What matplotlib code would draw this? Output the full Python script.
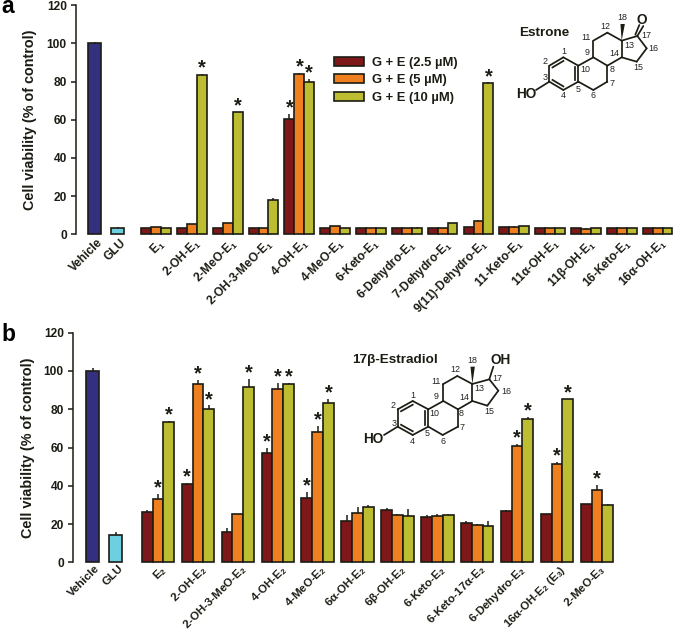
import matplotlib
matplotlib.use("Agg")
import matplotlib.pyplot as plt
from matplotlib.patches import Polygon, Patch
from matplotlib.transforms import ScaledTranslation
import numpy as np

plt.rcParams['font.family'] = ['Liberation Sans', 'DejaVu Sans']
plt.rcParams['font.weight'] = 'bold'
plt.rcParams['mathtext.fontset'] = 'custom'
plt.rcParams['mathtext.bf'] = 'Liberation Sans:bold'
plt.rcParams['mathtext.rm'] = 'Liberation Sans:bold'
plt.rcParams['mathtext.default'] = 'bf'

W, H = 674, 634
DARK = '#1c1c14'

control_labels = ['Vehicle', 'GLU']
series_names = ['G + E (2.5 µM)', 'G + E (5 µM)', 'G + E (10 µM)']
series_colors = ['#7d1719', '#f0801f', '#bcbd30']
control_colors = ['#343080', '#6ecfe0']

# Panel a
a_control = [100, 3.5]
a_control_err = [0.7, 0.2]
a_labels = ['E$_1$', '2-OH-E$_1$', '2-MeO-E$_1$', '2-OH-3-MeO-E$_1$', '4-OH-E$_1$', '4-MeO-E$_1$',
            '6-Keto-E$_1$', '6-Dehydro-E$_1$', '7-Dehydro-E$_1$', '9(11)-Dehydro-E$_1$', '11-Keto-E$_1$',
            '11α-OH-E$_1$', '11β-OH-E$_1$', '16-Keto-E$_1$', '16α-OH-E$_1$']
a_low = [3.5, 3.5, 3.5, 3.5, 60.5, 3.5, 3.5, 3.3, 3.5, 3.8, 3.8, 3.3, 3.5, 3.3, 3.2]
a_mid = [3.8, 5.3, 6.0, 3.3, 84.0, 4.2, 3.2, 3.5, 3.5, 7.2, 4.1, 3.4, 3.1, 3.4, 3.3]
a_high = [3.5, 83.5, 64.0, 18.3, 80.0, 3.5, 3.3, 3.6, 5.8, 79.0, 4.2, 3.3, 3.3, 3.4, 3.4]
a_low_err = [0.1, 0.1, 0.1, 0.1, 2.5, 0.1, 0.1, 0.1, 0.1, 0.1, 0.1, 0.1, 0.1, 0.1, 0.1]
a_mid_err = [0.1, 0.2, 0.2, 0.1, 0.6, 0.3, 0.1, 0.1, 0.1, 0.3, 0.1, 0.1, 0.1, 0.1, 0.1]
a_high_err = [0.1, 0.5, 0.2, 1.0, 1.5, 0.1, 0.1, 0.1, 0.2, 0.5, 0.1, 0.1, 0.1, 0.1, 0.1]
a_stars = [(1, 2), (2, 2), (4, 0), (4, 1), (4, 2), (9, 2)]

# Panel b
b_control = [100, 14.5]
b_control_err = [1.5, 1.2]
b_labels = ['E$_2$', '2-OH-E$_2$', '2-OH-3-MeO-E$_2$', '4-OH-E$_2$', '4-MeO-E$_2$', '6α-OH-E$_2$',
            '6β-OH-E$_2$', '6-Keto-E$_2$', '6-Keto-17α-E$_2$', '6-Dehydro-E$_2$',
            '16α-OH-E$_2$ (E$_3$)', '2-MeO-E$_3$']
b_low = [26.5, 41.0, 15.7, 57.3, 33.8, 21.7, 27.3, 23.7, 20.8, 26.8, 25.2, 30.3]
b_mid = [33.3, 93.3, 25.0, 90.7, 68.3, 25.7, 24.5, 24.4, 19.3, 60.7, 51.5, 38.0]
b_high = [73.5, 80.0, 91.7, 93.4, 83.0, 29.1, 24.3, 24.5, 18.8, 75.0, 85.3, 30.2]
b_low_err = [1.0, 0.6, 2.0, 2.3, 2.8, 3.0, 1.0, 1.2, 0.7, 0.4, 0.3, 0.4]
b_mid_err = [2.2, 2.0, 0.3, 3.2, 2.8, 3.0, 1.0, 1.0, 0.5, 1.3, 1.0, 2.2]
b_high_err = [0.3, 2.0, 4.0, 0.4, 2.5, 0.8, 3.3, 0.8, 3.0, 1.0, 0.2, 0.2]
b_stars = [(0, 1), (0, 2), (1, 0), (1, 1), (1, 2), (2, 2), (3, 0), (3, 1), (3, 2), (4, 0), (4, 1), (4, 2),
           (9, 1), (9, 2), (10, 1), (10, 2), (11, 1)]

fig = plt.figure(figsize=(W / 100, H / 100), dpi=100)


def axes_px(left, top, right, bottom):
    return fig.add_axes([left / W, 1 - bottom / H, (right - left) / W, (bottom - top) / H])


def panel(ax, x0, ctrl_centers, ctrl, ctrl_err, labels, series, errs, stars, group0, step, bw, star_off,
          xsize=8.6, xpad=1.5):
    ax.set_xlim(x0, W)
    ax.set_ylim(0, 120)
    ax.patch.set_alpha(0)
    for s in ('top', 'right', 'bottom'):
        ax.spines[s].set_visible(False)
    ax.spines['left'].set_linewidth(1.1)
    ax.spines['left'].set_color(DARK)
    ax.set_yticks(range(0, 121, 20))
    ax.tick_params(axis='y', length=3.6, width=1.1, pad=3, labelsize=8.6, color=DARK, labelcolor=DARK)
    ax.tick_params(axis='x', length=0, pad=xpad, labelsize=xsize, labelcolor=DARK)
    kw = dict(edgecolor=DARK, linewidth=1.2, clip_on=False, zorder=3)
    ekw = dict(elinewidth=1.1, capsize=0, ecolor=DARK)
    ax.bar(ctrl_centers, ctrl, width=13, color=control_colors, **kw)
    ax.errorbar(ctrl_centers, ctrl, yerr=[[0, 0], ctrl_err], fmt='none', zorder=2, **ekw)
    centers = group0 + step * np.arange(len(labels))
    tops = []
    for i, (vals, err, col) in enumerate(zip(series, errs, series_colors)):
        xs = centers + (i - 1) * bw
        ax.bar(xs, vals, width=bw, color=col, **kw)
        ax.errorbar(xs, vals, yerr=[np.zeros(len(vals)), err], fmt='none', zorder=2, **ekw)
        tops.append((xs, np.array(vals) + np.array(err)))
    for g, s in stars:
        xs, t = tops[s]
        ax.annotate('*', (xs[g], t[g]), xytext=(0, star_off), textcoords='offset pixels',
                    ha='center', va='center', fontsize=14.5, color=DARK, fontweight='bold')
    ax.set_xticks(list(ctrl_centers) + list(centers))
    ax.set_xticklabels(list(control_labels) + list(labels), rotation=45, ha='right',
                       rotation_mode='anchor')
    for lab in ax.get_xticklabels():
        lab.set_transform(lab.get_transform() + ScaledTranslation(2 / 100, 0, fig.dpi_scale_trans))
    ax.set_ylabel('Cell viability (% of control)', fontsize=10.4, color=DARK, labelpad=0, fontweight='bold')
    return centers


ax_a = axes_px(76, 5, W, 234.5)
panel(ax_a, 76, [94.5, 117.5], a_control, a_control_err, a_labels,
      [a_low, a_mid, a_high], [a_low_err, a_mid_err, a_high_err], a_stars,
      156, 35.83, 9.9, 6)
ax_a.yaxis.set_label_coords((37 - 76) / (W - 76), 0.5)

ax_b = axes_px(73, 332.7, W, 562.3)
panel(ax_b, 73, [92.5, 115.8], b_control, b_control_err, b_labels,
      [b_low, b_mid, b_high], [b_low_err, b_mid_err, b_high_err], b_stars,
      158, 39.9, 10.8, 6, xsize=8.25, xpad=0.5)
ax_b.yaxis.set_label_coords((35 - 73) / (W - 73), 0.5)

handles = [Patch(facecolor=c, edgecolor=DARK, linewidth=1.2) for c in series_colors]
ax_a.legend(handles, series_names, loc='upper left', frameon=False, fontsize=9.4,
            bbox_to_anchor=((334 - 76) / (W - 76), 1 - (56.5 - 5) / 229.5), borderaxespad=0, borderpad=0,
            handlelength=2.3, handleheight=0.7, handletextpad=0.6, labelspacing=0.42,
            labelcolor=DARK)

# Overlay in pixel coordinates: panel letters and chemical structures
ov = fig.add_axes([0, 0, 1, 1], zorder=10)
ov.set_xlim(0, W)
ov.set_ylim(H, 0)
ov.axis('off')
ov.text(1, 13, 'a', fontsize=16.5, ha='left', va='baseline', color='black')
ov.text(1, 341, 'b', fontsize=16.5, ha='left', va='baseline', color='black')


def structure(ox, oy, atoms, extra, labels, name, name_xy, groups):
    P = {k: (ox + v[0] / 3, oy + v[1] / 3) for k, v in atoms.items()}
    bonds = [(1, 2), (2, 3), (3, 4), (4, 5), (5, 10), (10, 1), (10, 9), (9, 11), (11, 12), (12, 13),
             (13, 14), (14, 8), (8, 9), (8, 7), (7, 6), (6, 5), (14, 15), (15, 16), (16, 17), (17, 13)] + extra
    for u, v in bonds:
        ov.plot([P[u][0], P[v][0]], [P[u][1], P[v][1]], color=DARK, lw=1.25, solid_capstyle='round')
    cx = np.mean([P[k][0] for k in (1, 2, 3, 4, 5, 10)])
    cy = np.mean([P[k][1] for k in (1, 2, 3, 4, 5, 10)])
    for u, v in [(1, 2), (3, 4), (5, 10)]:
        q = np.array([P[u], P[v]], float)
        c = np.array([cx, cy])
        q2 = q + (c - q) * 0.22
        ov.plot(q2[:, 0], q2[:, 1], color=DARK, lw=1.25)
    a = np.array(P[13])
    b = np.array(P['me'])
    ov.add_patch(Polygon([a, b + (-2.2, 0), b + (2.2, 0)], closed=True, color=DARK, lw=0))
    for k, (x, y) in labels.items():
        ov.text(ox + x / 3, oy + y / 3, str(k), fontsize=6.4, ha='center', va='center',
                fontweight='normal', color='#222222')
    for t, x, y in groups:
        ov.text(ox + x / 3, oy + y / 3, t, fontsize=9.8, ha='center', va='center', color=DARK)
    ov.text(name_xy[0], name_xy[1], name, fontsize=name_size, ha='center', va='center', color=DARK)


name_size = 9.7
structure(330, 0,
          {1: (700, 172), 2: (658, 197), 3: (658, 245), 4: (700, 270), 5: (745, 245), 10: (745, 197),
           9: (790, 172), 11: (790, 122), 12: (832, 98), 13: (875, 122), 14: (875, 172), 8: (832, 197),
           7: (832, 245), 6: (790, 270), 15: (920, 185), 16: (950, 145), 17: (922, 108), 'ho': (618, 270),
           'o': (940, 78), 'o2': (928, 75), 'o3': (916, 104), 'me': (878, 72)},
          [(3, 'ho'), (17, 'o'), ('o2', 'o3')],
          {1: (700, 155), 2: (644, 184), 3: (644, 232), 4: (700, 288), 5: (745, 268), 10: (765, 208),
           9: (770, 158), 11: (768, 113), 12: (825, 80), 13: (897, 136), 14: (852, 162), 8: (846, 207),
           7: (846, 250), 6: (790, 288), 15: (924, 202), 16: (970, 146), 17: (948, 108), 18: (876, 54)},
          'Estrone', (544.5, 32.5), [('HO', 590, 283), ('O', 935, 61)])

structure(330, 320,
          {1: (248, 243), 2: (203, 268), 3: (203, 320), 4: (248, 345), 5: (295, 320), 10: (295, 268),
           9: (340, 243), 11: (340, 192), 12: (382, 168), 13: (427, 192), 14: (427, 243), 8: (384, 268),
           7: (384, 320), 6: (338, 345), 15: (472, 257), 16: (505, 212), 17: (478, 178), 'ho': (162, 345),
           'oh': (490, 140), 'me': (428, 140)},
          [(3, 'ho'), (17, 'oh')],
          {1: (248, 228), 2: (189, 257), 3: (191, 310), 4: (246, 364), 5: (292, 341), 10: (313, 282),
           9: (318, 230), 11: (317, 183), 12: (376, 148), 13: (449, 205), 14: (403, 232), 8: (394, 280),
           7: (397, 322), 6: (338, 363), 15: (478, 275), 16: (528, 216), 17: (502, 176), 18: (427, 122)},
          '17β-Estradiol', (395, 360), [('HO', 130, 356), ('OH', 512, 120)])

fig.savefig('out.png', dpi=100)
